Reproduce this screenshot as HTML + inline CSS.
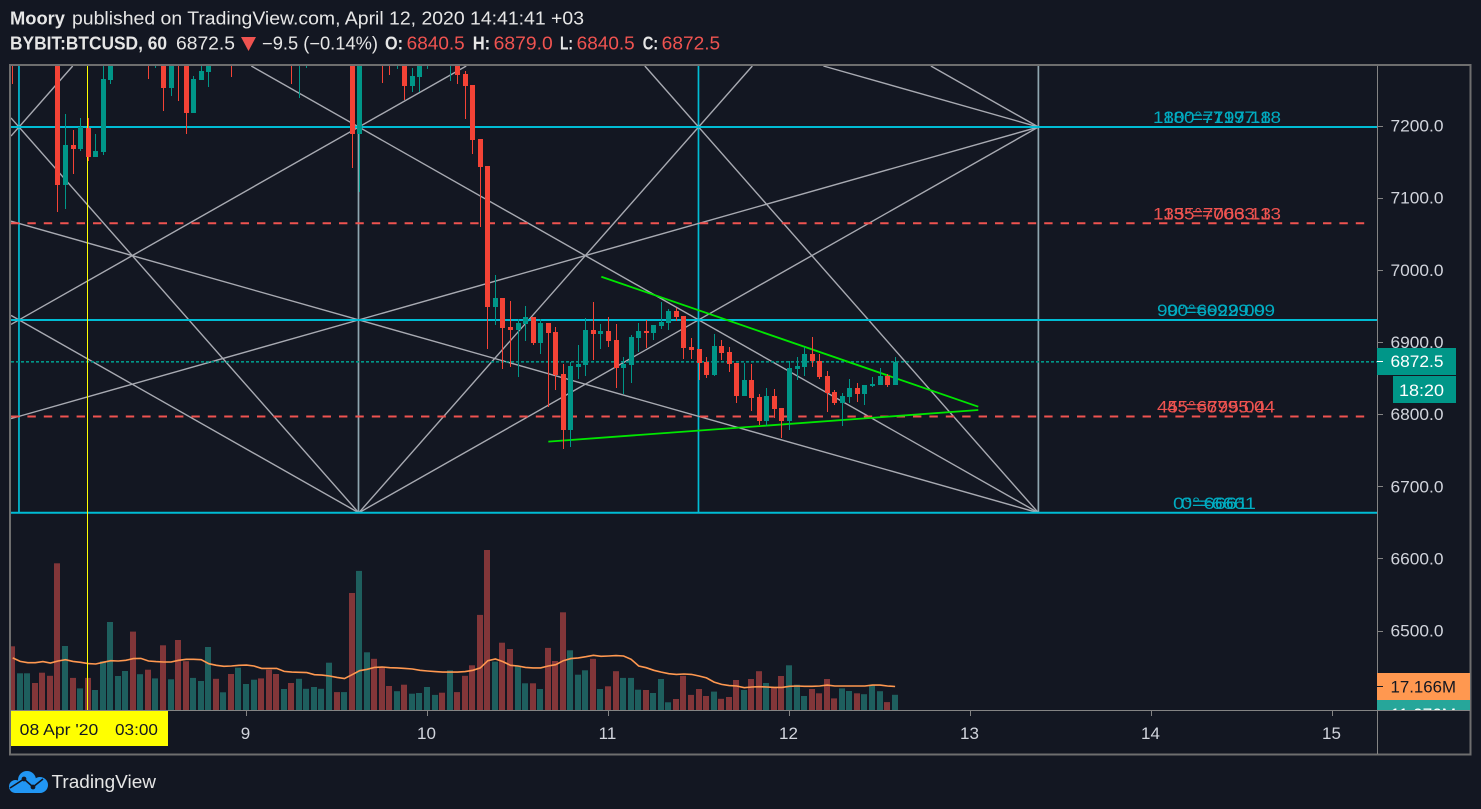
<!DOCTYPE html>
<html lang="en">
<head>
<meta charset="utf-8">
<title>BYBIT:BTCUSD 60 chart</title>
<style>
html,body{margin:0;padding:0;background:#131722;width:1481px;height:809px;overflow:hidden}
svg{display:block;font-family:"Liberation Sans",Arial,sans-serif}
</style>
</head>
<body>
<svg id="chart" xmlns="http://www.w3.org/2000/svg" width="1481" height="809" viewBox="0 0 1481 809">
  <defs>
    <clipPath id="pane-clip"><rect x="11" y="66" width="1366" height="644"/></clipPath>
    <clipPath id="axis-clip"><rect x="1377" y="66" width="93" height="644"/></clipPath>
  </defs>
  <rect x="0" y="0" width="1481" height="809" fill="#131722"/>

  <g font-size="18" fill="#e6e6e6">
    <text x="10" y="24.5" font-weight="700" textLength="55" lengthAdjust="spacingAndGlyphs">Moory</text>
    <text x="72" y="24.5" textLength="512" lengthAdjust="spacingAndGlyphs">published on TradingView.com, April 12, 2020 14:41:41 +03</text>
    <text x="10" y="49.5" font-weight="700" textLength="157" lengthAdjust="spacingAndGlyphs">BYBIT:BTCUSD, 60</text>
    <text x="176" y="49.5" textLength="59" lengthAdjust="spacingAndGlyphs">6872.5</text>
    <polygon points="241,37 256,37 248.5,51" fill="#ef5350"/>
    <text x="262" y="49.5" textLength="116" lengthAdjust="spacingAndGlyphs">−9.5 (−0.14%)</text>
    <text x="385" y="49.5" font-weight="700" textLength="18" lengthAdjust="spacingAndGlyphs">O:</text>
    <text x="406.7" y="49.5" fill="#ef5350" textLength="58" lengthAdjust="spacingAndGlyphs">6840.5</text>
    <text x="472.7" y="49.5" font-weight="700" textLength="17.5" lengthAdjust="spacingAndGlyphs">H:</text>
    <text x="493.7" y="49.5" fill="#ef5350" textLength="59" lengthAdjust="spacingAndGlyphs">6879.0</text>
    <text x="560" y="49.5" font-weight="700" textLength="13" lengthAdjust="spacingAndGlyphs">L:</text>
    <text x="576.7" y="49.5" fill="#ef5350" textLength="58" lengthAdjust="spacingAndGlyphs">6840.5</text>
    <text x="642.7" y="49.5" font-weight="700" textLength="15.5" lengthAdjust="spacingAndGlyphs">C:</text>
    <text x="661.7" y="49.5" fill="#ef5350" textLength="58.5" lengthAdjust="spacingAndGlyphs">6872.5</text>
  </g>

  <g id="volume-layer" clip-path="url(#pane-clip)"></g>
  <g id="gann-layer"></g>
  <g id="level-layer"></g>
  <g id="trend-layer"></g>
  <g id="crosshair-layer"></g>
  <g id="candle-layer" clip-path="url(#pane-clip)"></g>
  <g id="axis-layer"></g>

  <g>
    <rect x="10" y="65" width="1460.5" height="689.5" fill="none" stroke="#6e6e6e" stroke-width="2"/>
    <line x1="1377.5" y1="66" x2="1377.5" y2="754" stroke="#848484" stroke-width="1"/>
    <line x1="11" y1="710.5" x2="1470" y2="710.5" stroke="#848484" stroke-width="1"/>
  </g>

  <g id="tag-layer">
    <rect x="1377" y="348" width="79" height="27" fill="#009688"/>
    <line x1="1377" y1="361.5" x2="1383" y2="361.5" stroke="#ffffff"/>
    <text x="1390.5" y="367" font-size="17" fill="#ffffff" textLength="53" lengthAdjust="spacingAndGlyphs">6872.5</text>
    <rect x="1393" y="376" width="63" height="27" fill="#009688"/>
    <text x="1399" y="396" font-size="17" fill="#ffffff" textLength="45" lengthAdjust="spacingAndGlyphs">18:20</text>
    <rect x="1377" y="673" width="93" height="27" fill="#ff9850"/>
    <line x1="1377" y1="686.5" x2="1383" y2="686.5" stroke="#131722"/>
    <text x="1390.5" y="692.7" font-size="17" fill="#131722" textLength="65.5" lengthAdjust="spacingAndGlyphs">17.166M</text>
    <g clip-path="url(#axis-clip)">
      <rect x="1377" y="700" width="93" height="27" fill="#26a69a"/>
      <text x="1390.5" y="720" font-size="17" fill="#ffffff" textLength="65.5" lengthAdjust="spacingAndGlyphs">11.076M</text>
    </g>
  </g>

  <g>
    <rect x="11" y="711" width="157" height="35" fill="#ffff00"/>
    <text x="19.7" y="735" font-size="16" fill="#131722" textLength="78.6" lengthAdjust="spacingAndGlyphs">08 Apr '20</text>
    <text x="115" y="735" font-size="16" fill="#131722" textLength="43" lengthAdjust="spacingAndGlyphs">03:00</text>
  </g>

  <g>
    <g fill="#2196f3">
      <circle cx="15.5" cy="786.5" r="6.5"/>
      <circle cx="27" cy="780" r="9"/>
      <circle cx="40" cy="785" r="8"/>
      <rect x="15" y="785" width="25" height="8"/>
    </g>
    <polyline points="10,788 24,779 33,787 43,779" fill="none" stroke="#131722" stroke-width="1.6"/>
    <circle cx="24" cy="779" r="2.4" fill="#131722"/>
    <circle cx="33" cy="787" r="2.4" fill="#131722"/>
    <text x="51.5" y="788" font-size="18.5" fill="#e6e6e6" textLength="104.5" lengthAdjust="spacingAndGlyphs">TradingView</text>
  </g>
</svg>

<script>
// ---- Chart data (hourly bars, index 0 = Apr 7 17:00) ----
var opens = [7305,7295,7315,7335,7325,7315,7305,7117.5,7173,7167,7197,7156,7163,7263,7320,7335,7345,7325,7335,7310,7325,7252,7300,7290,7217,7263,7274,7295,7290,7300,7290,7310,7320,7330,7320,7305,7295,7305,7295,7305,7315,7322,7330,7345,7338,7345,7188,7330,7345,7330,7310,7300,7310,7255,7267,7300,7310,7318,7305,7295,7271,7256,7181,7144,6948,6961,6921,6917,6925,6935,6899,6926,6914,6856,6778,6865,6868,6916,6911,6915,6903,6864,6868,6906,6915,6912,6922,6926,6943,6936,6893,6890,6872,6854,6894,6886,6871,6825,6847,6824,6790,6825,6808,6790,6863,6865,6883,6874,6853,6830,6815,6824,6836,6828,6839,6840,6853,6840.5];
var closes = [7295,7315,7335,7325,7315,7305,7117.5,7173,7167.5,7198,7156,7165,7264,7320,7335,7345,7325,7335,7310,7325,7252,7300,7290,7217,7264,7275,7290,7290,7300,7290,7310,7320,7330,7320,7305,7295,7305,7295,7305,7315,7322,7330,7345,7338,7345,7188,7330,7345,7330,7310,7300,7310,7255,7268,7300,7310,7318,7310,7315,7270,7255,7180,7142,6948,6961,6919,6917,6926,6935,6899,6926,6912,6854,6778,6867,6869,6916,6911,6915,6901,6864,6870,6907,6915,6912,6923,6928,6943,6935,6892,6889,6871,6854,6894,6885,6870,6825,6847,6822,6790,6825,6807,6790,6864,6866,6883,6874,6852,6829,6815,6825,6836,6828,6840,6842,6853,6840,6872.5];
var highs = [7310,7325,7340,7340,7330,7320,7310,7216,7194,7210,7210,7188,7295,7330,7340,7350,7350,7340,7340,7330,7330,7310,7310,7295,7268,7290,7300,7300,7305,7305,7315,7325,7335,7335,7325,7310,7310,7310,7315,7320,7325,7335,7350,7350,7350,7350,7340,7350,7350,7335,7315,7315,7315,7280,7305,7315,7322,7322,7320,7300,7275,7256,7181,7144,6993,6961,6957,6932,6950,6935,6932,6926,6921,6870,6872,6896,6933,6955,6925,6935,6925,6879,6910,6926,6930,6923,6955,6945,6947,6936,6905,6890,6879,6911,6903,6893,6871,6871,6869,6828,6836,6835,6808,6874,6879,6893,6907,6883,6860,6833,6829,6849,6843,6840,6851,6864,6856,6879];
var lows = [7257,7290,7310,7320,7310,7300,7080,7084,7133,7164,7151,7156,7159,7258,7315,7330,7320,7320,7264,7280,7220,7241,7234,7188,7217,7263,7253,7285,7288,7267,7285,7300,7310,7315,7300,7290,7290,7257,7238,7280,7310,7318,7325,7330,7332,7141,7108,7320,7320,7259,7270,7278,7235,7246,7246,7278,7305,7305,7261,7257,7209,7161,7060,6890,6923,6862,6865,6851,6901,6896,6883,6810,6833,6752,6755,6848,6853,6875,6890,6893,6836,6828,6843,6886,6892,6903,6918,6917,6929,6877,6877,6847,6850,6853,6875,6858,6815,6825,6804,6785,6784,6795,6767,6778,6847,6853,6865,6849,6803,6813,6784,6815,6817,6813,6837,6840,6837,6840.5];
var volumes = [46.5,26.8,26.8,19.7,27.2,25,107.1,46.7,23.4,15.8,23.4,14.6,35.6,64.2,24.8,28.5,57.2,26.1,29.4,23.1,47.2,22.4,51.1,35.6,23.4,21.2,46,22.8,12.9,26.3,30.9,19,22.1,23.1,29.4,26.3,15.3,19.7,22.8,15.5,16.8,15.5,34.5,13.1,13.1,85.4,101.5,42.1,37.4,31.6,17.5,13.7,18.5,11.9,12.4,16.8,11,12.6,29,13.1,25,32.6,69.4,116.8,35.3,49.1,44.5,32.1,19.5,19.5,15.3,45.3,35.8,71.3,43.6,25.8,29,37.4,15.3,17.3,28.3,23.4,23.4,14.8,14.6,12.4,22.6,5.6,8,25,11,15.3,10.2,13.4,8.2,9.5,21.9,14.6,22.6,28.3,19.7,16.8,24.8,32.6,18.5,10.2,15.3,12.2,22.6,8.5,15.8,13.9,12.2,11.5,18.3,13.7,5.8,11.076];
var volumeMA = [38,35.5,34.5,34.5,35.3,34.3,35.8,36.7,35.5,34.8,33.9,33.6,34.8,36,35.8,36.3,37.5,37.7,35.8,35.3,35,35,36.3,37,37,36.7,33.8,32.6,31.9,32.1,32.6,32.8,32.1,30.4,30.4,30.4,28.2,27.7,27.5,27.3,25.8,25.5,24.8,23.8,22.9,25.8,28.7,29.7,31.1,31.4,30.9,30.7,30.4,29.9,29,28.5,28,27.7,27.7,27.7,28,29,30.7,36,37.2,35.3,32.6,32.1,31.1,30.7,30.7,32.1,33.1,36,37.5,38,38.9,39.9,39.2,39.4,39.7,39.4,37,32.1,30.9,29,27.7,26.5,26,26.3,26,24.8,23.4,20.4,18.7,17.8,17.5,16.3,16.8,17,16.8,16.5,16.5,17.3,17.5,17.3,17.3,17.5,18.2,17.5,17.5,17.5,17.5,17.5,18.2,18.2,17.5,17.166];

var priceTicks = [7200,7100,7000,6900,6800,6700,6600,6500];
var priceTickLabels = ["7200.0","7100.0","7000.0","6900.0","6800.0","6700.0","6600.0","6500.0"];
var dayTickBars = [31,55,79,103,127,151,175];
var dayTickLabels = ["9","10","11","12","13","14","15"];

// Gann square anchors: bar indices of the verticals and the plotted price of each level.
var gannBars = [0.83,45.85,90.93,136];
var gannPrices = [6663.2,6796.7,6930.4,7064.4,7197.9];
var gannLevelNames = ["level-0","level-45","level-90","level-135","level-180"];
var gannLabelsA = ["0°=6661","45°=6795.04","90°=6929.09","135°=7063.13","180°=7197.18"];
var gannLabelsB = ["0°=6661","45°=6795.04","90°=6929.09","135°=7063.13","180°=7197.18"];
var gannLabelStart = [1173,1157,1157,1153,1153];
var gannLabelLength = [75,108,108,118,118];
var gannLabelOffset = [8,10,10,10,10];
var gannStyles = ["solid","dashed","solid","dashed","solid"];
// Rays in grid coordinates: [column, level, column, level]
var gannRays = [[0,4,1,0],[0,2,1,0],[0,3,3,0],[1,4,3,0],[2,4,3,0],[1,0,2,4],[1,0,3,4],[0,1,3,4],[0,2,1,4],[0,4,1,8],[3,4,2,5],[3,4,2,6]];

// Hand-drawn trend lines: [bar, price, bar, price]
var trendUpper = [78.05,6990.4,128.03,6810.3];
var trendLower = [71.02,6761.8,128.03,6805.7];

var lastPrice = 6872.5;
var crosshairBar = 9.9;

// ---- Axis functions ----
function xOf(i){return 246.5+7.5417*(i-31);}
function yOf(p){return 125.5+(7200-p)*0.7215;}
function volY(v){return 710-v*1.37;}
function gridX(u){return xOf(gannBars[0])+(xOf(gannBars[3])-xOf(gannBars[0]))*u/3;}
function gridY(v){return yOf(gannPrices[0])+(yOf(gannPrices[4])-yOf(gannPrices[0]))*v/4;}

// Trim an infinite ray through two points to the visible gann region.
function clipRay(ax,ay,bx,by,xmin,ymin,xmax,ymax){
  var dx=bx-ax,dy=by-ay,t0=-1e6,t1=1e6;
  var p=[-dx,dx,-dy,dy],q=[ax-xmin,xmax-ax,ay-ymin,ymax-ay];
  for(var j=0;j<4;j++){
    if(p[j]===0){if(q[j]<0){return null;}continue;}
    var t=q[j]/p[j];
    if(p[j]<0){if(t>t0){t0=t;}}else{if(t<t1){t1=t;}}
  }
  if(t0>t1){return null;}
  return [ax+t0*dx,ay+t0*dy,ax+t1*dx,ay+t1*dy];
}

var NS='http://www.w3.org/2000/svg';
function mk(tag,attrs,parent){
  var n=document.createElementNS(NS,tag);
  for(var k in attrs){n.setAttribute(k,attrs[k]);}
  parent.appendChild(n);
  return n;
}
var C_UP='#009688',C_DOWN='#f44336',V_UP='#1e5f5e',V_DOWN='#823639',CYAN='#00bcd4',GREY='#a8aab2',RED='#ef5350';
var el;

// ---- Volume bars and moving average ----
var vLayer=document.getElementById('volume-layer');
for(var i=0;i<volumes.length;i++){
  var vx=Math.floor(xOf(i))-3;
  var vt=volY(volumes[i]);
  el=mk('rect',{x:vx,y:vt.toFixed(1),width:6,height:(710-vt).toFixed(1),fill:closes[i]>=opens[i]?V_UP:V_DOWN},vLayer);
  
  
}
var maPts=[];
for(i=0;i<volumeMA.length;i++){maPts.push(xOf(i).toFixed(1)+','+volY(volumeMA[i]).toFixed(1));}
el=mk('polyline',{points:maPts.join(' '),fill:'none',stroke:'#ff9850','stroke-width':1.6},vLayer);



// ---- Gann square: verticals, rays ----
var gLayer=document.getElementById('gann-layer');
for(i=0;i<gannBars.length;i++){
  var gx=xOf(gannBars[i]);
  el=mk('line',{x1:gx,y1:66,x2:gx,y2:gridY(0),stroke:(i%2===1)?'#8fa6b0':CYAN,'stroke-width':1.7},gLayer);
  
  
}
var rayGroup=mk('g',{},gLayer);


for(i=0;i<gannRays.length;i++){
  var r=gannRays[i];
  var seg=clipRay(gridX(r[0]),gridY(r[1]),gridX(r[2]),gridY(r[3]),11,66,gridX(3),gridY(0));
  if(!seg){continue;}
  el=mk('line',{x1:seg[0].toFixed(2),y1:seg[1].toFixed(2),x2:seg[2].toFixed(2),y2:seg[3].toFixed(2),stroke:GREY,'stroke-width':1.4},rayGroup);
  
  
}

// ---- Gann horizontal levels + doubled labels ----
var lLayer=document.getElementById('level-layer');
for(i=0;i<gannPrices.length;i++){
  var ly=yOf(gannPrices[i]);
  var solid=gannStyles[i]==='solid';
  var colour=solid?CYAN:RED;
  el=mk('line',{x1:11,y1:ly.toFixed(1),x2:solid?1377:1372,y2:ly.toFixed(1),stroke:colour,'stroke-width':2,'stroke-dasharray':solid?'none':'8.4 8'},lLayer);
  
  
  var tc=solid?'#00acc1':RED;
  el=mk('text',{x:gannLabelStart[i],y:(ly-3.8).toFixed(1),'font-size':16.5,fill:tc,textLength:gannLabelLength[i],lengthAdjust:'spacingAndGlyphs'},lLayer);
  
  
  el.textContent=gannLabelsA[i];
  el=mk('text',{x:gannLabelStart[i]+gannLabelOffset[i],y:(ly-3.8).toFixed(1),'font-size':16.5,fill:tc,textLength:gannLabelLength[i],lengthAdjust:'spacingAndGlyphs'},lLayer);
  
  
  el.textContent=gannLabelsB[i];
}

// ---- Last price line ----
el=mk('line',{x1:11,y1:yOf(lastPrice).toFixed(1),x2:1377,y2:yOf(lastPrice).toFixed(1),stroke:'#009688','stroke-width':1.6,'stroke-dasharray':'3 2'},lLayer);



// ---- Trend lines ----
var tLayer=document.getElementById('trend-layer');
el=mk('line',{x1:xOf(trendUpper[0]),y1:yOf(trendUpper[1]),x2:xOf(trendUpper[2]),y2:yOf(trendUpper[3]),stroke:'#00e600','stroke-width':1.8},tLayer);


el=mk('line',{x1:xOf(trendLower[0]),y1:yOf(trendLower[1]),x2:xOf(trendLower[2]),y2:yOf(trendLower[3]),stroke:'#00e600','stroke-width':1.8},tLayer);



// ---- Crosshair ----
var cLayer=document.getElementById('crosshair-layer');
var chx=Math.floor(xOf(crosshairBar))+0.5;
el=mk('line',{x1:chx,y1:66,x2:chx,y2:710,stroke:'#ffff00','stroke-width':1},cLayer);



// ---- Candles ----
var kLayer=document.getElementById('candle-layer');
for(i=0;i<opens.length;i++){
  var up=closes[i]>=opens[i];
  var col=up?C_UP:C_DOWN;
  var fx=Math.floor(xOf(i));
  var wt=Math.round(yOf(highs[i])),wb=Math.round(yOf(lows[i]));
  el=mk('rect',{x:fx,y:wt,width:1,height:Math.max(1,wb-wt),fill:col},kLayer);
  
  
  var bt=Math.round(yOf(Math.max(opens[i],closes[i]))),bb=Math.round(yOf(Math.min(opens[i],closes[i])));
  el=mk('rect',{x:fx-2,y:bt,width:5,height:Math.max(1,bb-bt),fill:col},kLayer);
  
  
}

// ---- Axes ----
var aLayer=document.getElementById('axis-layer');
for(i=0;i<priceTicks.length;i++){
  var py=yOf(priceTicks[i]);
  el=mk('line',{x1:1377,y1:Math.round(py)+0.5,x2:1383,y2:Math.round(py)+0.5,stroke:'#848484'},aLayer);
  
  
  el=mk('text',{x:1390.5,y:(py+6).toFixed(1),'font-size':17,fill:'#d1d4dc',textLength:53,lengthAdjust:'spacingAndGlyphs'},aLayer);
  
  
  el.textContent=priceTickLabels[i];
}
for(i=0;i<dayTickBars.length;i++){
  var dx0=xOf(dayTickBars[i]);
  el=mk('line',{x1:dx0,y1:711,x2:dx0,y2:716,stroke:'#848484'},aLayer);
  
  
  el=mk('text',{x:dx0-1,y:739,'font-size':17,'text-anchor':'middle',fill:'#d1d4dc'},aLayer);
  
  
  el.textContent=dayTickLabels[i];
}
el=mk('line',{x1:chx,y1:711,x2:chx,y2:717,stroke:'#131722'},aLayer);


</script>
</body>
</html>
